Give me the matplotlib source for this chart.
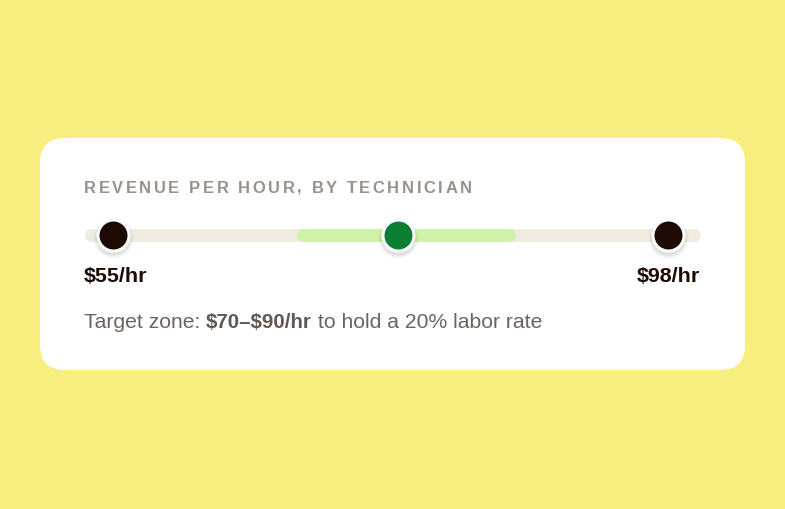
import numpy as np
import matplotlib.pyplot as plt
from matplotlib.patches import FancyBboxPatch
from matplotlib.transforms import offset_copy

# revenue per hour per technician - range strip

title = 'REVENUE PER HOUR, BY TECHNICIAN'
rate_min = 55
rate_max = 98
rate_median = 79.2
target_zone = [70, 90]
unit = '/hr'
footer_parts = ['Target zone: ', '$70\u2013$90/hr', ' to hold a 20% labor rate']
footer_bold = [False, True, False]

W, H = 785, 510
px = 0.72  # points per pixel at dpi 100

plt.rcParams['font.family'] = ['Liberation Sans', 'DejaVu Sans']

fig = plt.figure(figsize=(W / 100, H / 100), dpi=100, facecolor='#F9EE80')

# background axes in pixel units
bg = fig.add_axes([0, 0, 1, 1])
bg.set_xlim(0, W)
bg.set_ylim(H, 0)
bg.axis('off')
bg.add_patch(FancyBboxPatch((40, 139), 705, 232, boxstyle='round,pad=0,rounding_size=25',
                            fc='white', ec='none'))

renderer = fig.canvas.get_renderer()


def text_width(s, **kw):
    t1 = bg.text(0, 0, s + 'I', parse_math=False, **kw)
    t2 = bg.text(0, 0, 'I', parse_math=False, **kw)
    w = t1.get_window_extent(renderer).width - t2.get_window_extent(renderer).width
    t1.remove()
    t2.remove()
    return w


def spaced_text(x, y, s, spacing, **kw):
    for i, ch in enumerate(s):
        if ch != ' ':
            bg.text(x + text_width(s[:i], **kw) + i * spacing, y, ch, va='baseline',
                    parse_math=False, **kw)


# title
spaced_text(84, 193, title, 2.6, fontsize=16.5 * px, fontweight='bold', color='#9A918B')

# track axes
lo, hi = rate_min * 0.9, rate_max * 1.1
track_h = 13
ax = fig.add_axes([(84 + track_h / 2) / W, (H - 266) / H, (616 - track_h) / W, 60 / H])
ax.set_xlim(lo, hi)
ax.set_ylim(-30, 30)
ax.axis('off')

ax.plot([lo, hi], [0, 0], lw=track_h * px, color='#EFECDF', solid_capstyle='round',
        clip_on=False, zorder=1)
ax.plot(target_zone, [0, 0], lw=track_h * px, color='#CEF2A9', solid_capstyle='round',
        clip_on=False, zorder=2)


def dot(xv, color, dx=0):
    # soft shadow
    for k, a in zip([40, 37, 34], [0.03, 0.04, 0.05]):
        ax.plot([xv], [0], marker='o', ms=k * px, mfc='black', mec='none', alpha=a, clip_on=False,
                transform=offset_copy(ax.transData, fig=fig, x=dx, y=-3, units='dots'), zorder=3)
    ax.plot([xv], [0], marker='o', ms=31 * px, mfc=color, mec='white', mew=3 * px, clip_on=False,
            transform=offset_copy(ax.transData, fig=fig, x=dx, y=0, units='dots'), zorder=4)


dot(lo, '#1C0A03', dx=22.8)
dot(hi, '#1C0A03', dx=-25.2)
dot(rate_median, '#0A7E33')

# end labels
lab = dict(fontsize=21.5 * px, fontweight='bold', color='#1C0A03', va='baseline', parse_math=False)
bg.text(84, 282, f'${rate_min}{unit}', ha='left', **lab)
bg.text(700, 282, f'${rate_max}{unit}', ha='right', **lab)

# footer with bold range
x = 84
for part, b in zip(footer_parts, footer_bold):
    kw = dict(fontsize=(20.5 if b else 21.1) * px, fontweight='bold' if b else 'normal',
              color='#615853' if b else '#6D645F')
    bg.text(x, 328, part, va='baseline', parse_math=False, **kw)
    x += text_width(part, **kw)

fig.savefig('out.png', dpi=100, facecolor=fig.get_facecolor())
